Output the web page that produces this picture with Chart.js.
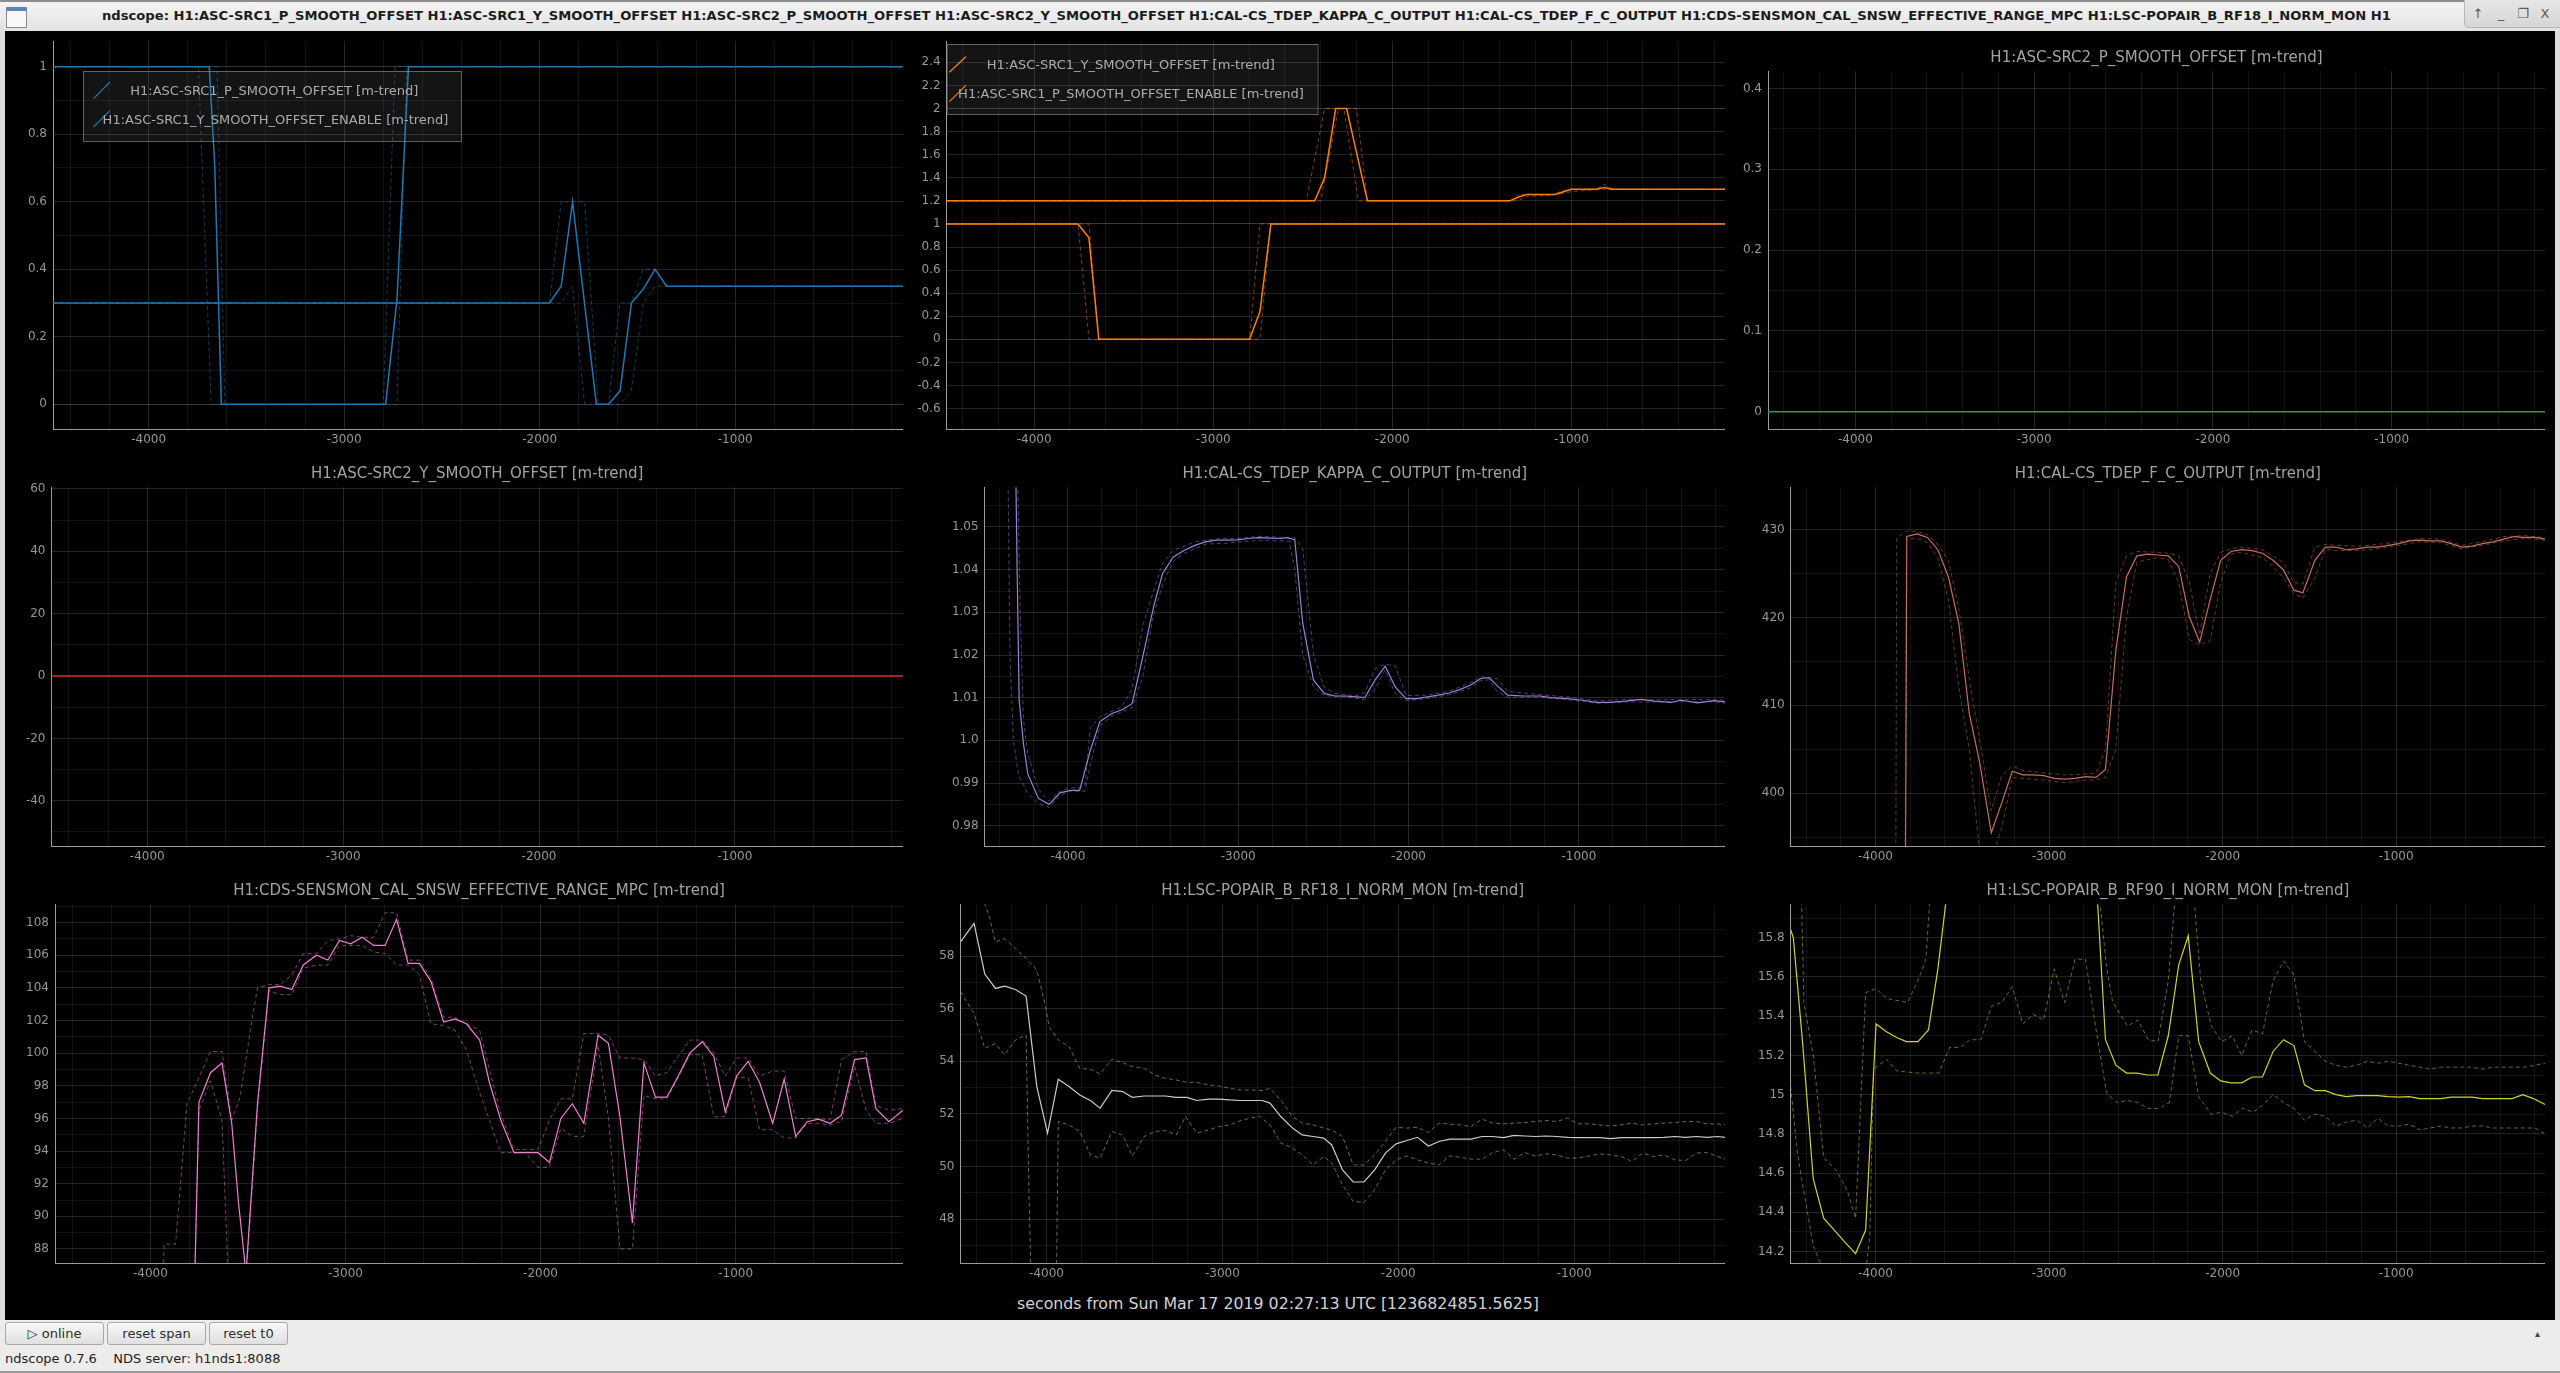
<!DOCTYPE html>
<html>
<head>
<meta charset="utf-8">
<title>ndscope</title>
<script src="https://cdn.jsdelivr.net/npm/chart.js@4.4.1/dist/chart.umd.min.js"></script>
<style>
  body { margin: 0; width: 2560px; height: 1373px; overflow: hidden; position: relative;
         background: #dcdcdc; font-family: 'DejaVu Sans', sans-serif; }
  #titlebar { position: absolute; left: 0; top: 0; width: 2560px; height: 31px; box-sizing: border-box;
              background: linear-gradient(#f4f4f4, #e2e2e2); border-top: 2px solid #8c8c8c; }
  #winicon { position: absolute; left: 6px; top: 5px; width: 19px; height: 16px; background: #f8f8f8;
             border: 1px solid #8a8a8a; border-top: 4px solid #5b86b8; border-radius: 1px; }
  #wintitle { position: absolute; left: 102px; top: 6px; font-weight: bold; font-size: 13px; color: #1c1c1c;
              white-space: nowrap; transform-origin: 0 0; }
  #winbtns { position: absolute; left: 2464px; top: -2px; width: 96px; height: 27px; border-radius: 0 0 0 5px;
             background: linear-gradient(#e6e6e6, #d6d6d6); border-left: 1px solid #b8b8b8; border-bottom: 1px solid #b8b8b8; }
  #winbtns span { position: absolute; top: 6px; font-size: 13px; color: #5a5a5a; transform: translateX(-50%); }
  #scope { position: absolute; left: 5px; top: 31px; width: 2550px; height: 1289px; background: #000; }
  canvas { position: absolute; }
  #xlabel { position: absolute; left: 1278px; top: 1303px; transform: translate(-50%, -50%); white-space: nowrap;
            font-size: 15.8px; color: #d2d2d2; }
  #toolbar { position: absolute; left: 0; top: 1320px; width: 2560px; height: 53px; background: #edeceb;
             border-bottom: 2px solid #9a9a9a; box-sizing: border-box; }
  .btn { position: absolute; top: 2px; height: 23px; box-sizing: border-box; border: 1px solid #a9a9a9;
         border-radius: 3px; background: linear-gradient(#f7f7f7, #e0e0e0); font-size: 13px; color: #2e2e2e;
         text-align: center; line-height: 21px; white-space: nowrap; }
  #status { position: absolute; left: 5px; top: 31px; font-size: 13px; color: #1e1e1e; white-space: pre; }
  #caret { position: absolute; left: 2535px; top: 8px; font-size: 10px; color: #444; }
</style>
</head>
<body>
<div id="titlebar">
  <div id="winicon"></div>
  <span id="wintitle">ndscope: H1:ASC-SRC1_P_SMOOTH_OFFSET H1:ASC-SRC1_Y_SMOOTH_OFFSET H1:ASC-SRC2_P_SMOOTH_OFFSET H1:ASC-SRC2_Y_SMOOTH_OFFSET H1:CAL-CS_TDEP_KAPPA_C_OUTPUT H1:CAL-CS_TDEP_F_C_OUTPUT H1:CDS-SENSMON_CAL_SNSW_EFFECTIVE_RANGE_MPC H1:LSC-POPAIR_B_RF18_I_NORM_MON H1</span>
  <div id="winbtns"><span style="left:13px">↑</span><span style="left:36px">_</span><span style="left:58px">❐</span><span style="left:80px">X</span></div>
</div>
<div id="scope"></div>
<div id="xlabel">seconds from Sun Mar 17 2019 02:27:13 UTC [1236824851.5625]</div>
<div id="toolbar">
  <div class="btn" style="left:5px;width:99px">▷ online</div>
  <div class="btn" style="left:107px;width:99px">reset span</div>
  <div class="btn" style="left:209px;width:79px">reset t0</div>
  <div id="caret">▴</div>
  <div id="status">ndscope 0.7.6    NDS server: h1nds1:8088</div>
</div>

<script>
// ---- x axis (seconds relative to t0) ----
const X_MIN = -4489;
const X_MAX = -142;
const xTickLabels = ['-4000', '-3000', '-2000', '-1000'];

// ---- panel 1: ASC-SRC1 P offset / Y offset enable ----
const src1Labels = ['H1:ASC-SRC1_P_SMOOTH_OFFSET [m-trend]', 'H1:ASC-SRC1_Y_SMOOTH_OFFSET_ENABLE [m-trend]'];
const src1YTicks = ['0', '0.2', '0.4', '0.6', '0.8', '1'];
const src1EnableMean = [[-4489,1],[-3690,1],[-3662,0.71],[-3628,0],[-2788,0],[-2730,0.31],[-2671,1],[-142,1]];
const src1EnableMin = [[-4489,1],[-3745,1],[-3680,0],[-2730,0],[-2680,1],[-142,1]];
const src1EnableMax = [[-4489,1],[-3650,1],[-3610,0],[-2800,0],[-2740,1],[-142,1]];
const src1OffsetMean = [[-4489,0.3],[-1950,0.3],[-1890,0.35],[-1832,0.6],[-1710,0],[-1648,0],[-1589,0.04],[-1531,0.3],[-1472,0.34],[-1410,0.4],[-1351,0.35],[-142,0.35]];
const src1OffsetMin = [[-4489,0.3],[-1890,0.3],[-1832,0.35],[-1770,0],[-1590,0],[-1531,0.04],[-1470,0.3],[-1410,0.35],[-142,0.35]];
const src1OffsetMax = [[-4489,0.3],[-1950,0.3],[-1890,0.6],[-1770,0.6],[-1700,0],[-1648,0],[-1590,0.3],[-1530,0.3],[-1470,0.4],[-1410,0.4],[-1351,0.35],[-142,0.35]];

// ---- panel 2: ASC-SRC1 Y offset / P offset enable ----
const src1bLabels = ['H1:ASC-SRC1_Y_SMOOTH_OFFSET [m-trend]', 'H1:ASC-SRC1_P_SMOOTH_OFFSET_ENABLE [m-trend]'];
const src1bYTicks = ['-0.6', '-0.4', '-0.2', '0', '0.2', '0.4', '0.6', '0.8', '1', '1.2', '1.4', '1.6', '1.8', '2', '2.2', '2.4'];
const yOffsetMean = [[-4489,1.2],[-2433,1.2],[-2378,1.4],[-2316,2.0],[-2255,2.0],[-2139,1.2],[-1343,1.2],[-1291,1.235],[-1245,1.256],[-1092,1.256],[-1000,1.3],[-862,1.3],[-817,1.315],[-771,1.3],[-142,1.3]];
const yOffsetMin = [[-4489,1.2],[-2400,1.2],[-2300,2.0],[-2270,2.0],[-2190,1.2],[-1300,1.2],[-1245,1.24],[-1100,1.25],[-1000,1.28],[-830,1.3],[-142,1.3]];
const yOffsetMax = [[-4489,1.2],[-2480,1.2],[-2378,2.0],[-2200,2.0],[-2139,1.2],[-1343,1.2],[-1300,1.25],[-1245,1.256],[-1092,1.256],[-1050,1.29],[-1000,1.3],[-862,1.3],[-817,1.345],[-771,1.3],[-142,1.3]];
const pEnableMean = [[-4489,1],[-3755,1],[-3694,0.88],[-3639,0],[-2797,0],[-2739,0.24],[-2678,1],[-142,1]];
const pEnableMin = [[-4489,1],[-3755,1],[-3694,0],[-2739,0],[-2678,1],[-142,1]];
const pEnableMax = [[-4489,1],[-3694,1],[-3639,0],[-2797,0],[-2739,1],[-142,1]];

// ---- panel 3 / 4: ASC-SRC2 offsets (flat) ----
const src2PYTicks = ['0', '0.1', '0.2', '0.3', '0.4'];
const src2PMean = [[-4489,0],[-142,0]];
const src2YYTicks = ['-40', '-20', '0', '20', '40', '60'];
const src2YMean = [[-4489,0],[-142,0]];

// ---- panel 5: kappa C ----
const kappaYTicks = ['0.98', '0.99', '1.0', '1.01', '1.02', '1.03', '1.04', '1.05'];
const kappaMean = [[-4310,1.075],[-4298,1.040],[-4286,1.0094],[-4261,0.9993],[-4236,0.9922],[-4173,0.9864],[-4110,0.9850],[-4047,0.9877],[-3984,0.9883],[-3931,0.9883],[-3868,0.9977],[-3812,1.0044],[-3742,1.0063],[-3686,1.0071],[-3623,1.0086],[-3560,1.0196],[-3497,1.0313],[-3444,1.0391],[-3381,1.0430],[-3318,1.0445],[-3255,1.0457],[-3193,1.0465],[-3130,1.0469],[-3067,1.0469],[-3004,1.0470],[-2941,1.0473],[-2879,1.0475],[-2816,1.0474],[-2753,1.0473],[-2715,1.0475],[-2668,1.0470],[-2621,1.0274],[-2558,1.0141],[-2495,1.0110],[-2432,1.0104],[-2370,1.0104],[-2307,1.0102],[-2257,1.0100],[-2197,1.0141],[-2137,1.0174],[-2078,1.0125],[-2015,1.0098],[-1952,1.0098],[-1889,1.0102],[-1826,1.0106],[-1763,1.0111],[-1700,1.0119],[-1638,1.0129],[-1575,1.0145],[-1528,1.0147],[-1481,1.0129],[-1418,1.0106],[-1324,1.0104],[-1229,1.0104],[-1166,1.0100],[-1072,1.0098],[-978,1.0094],[-899,1.0089],[-821,1.0089],[-727,1.0092],[-632,1.0096],[-554,1.0092],[-460,1.0089],[-397,1.0094],[-303,1.0088],[-208,1.0093],[-142,1.0090]];
const kappaMin = [[-4355,1.075],[-4340,1.02],[-4320,1.0],[-4290,0.992],[-4236,0.9875],[-4173,0.9852],[-4110,0.9843],[-4050,0.987],[-3990,0.9881],[-3900,0.9881],[-3870,0.994],[-3810,1.0035],[-3740,1.0057],[-3620,1.0078],[-3560,1.015],[-3500,1.029],[-3440,1.037],[-3380,1.042],[-3320,1.0438],[-3250,1.045],[-3190,1.046],[-3070,1.0462],[-2940,1.0467],[-2820,1.0468],[-2700,1.0467],[-2668,1.040],[-2621,1.020],[-2558,1.0125],[-2495,1.0105],[-2370,1.0102],[-2257,1.0095],[-2197,1.012],[-2137,1.0165],[-2078,1.011],[-2015,1.0093],[-1889,1.0098],[-1763,1.0107],[-1638,1.0123],[-1575,1.014],[-1528,1.0142],[-1481,1.0115],[-1418,1.0101],[-1229,1.0101],[-1072,1.0096],[-899,1.0087],[-727,1.009],[-554,1.009],[-397,1.0091],[-208,1.009],[-142,1.0088]];
const kappaMax = [[-4300,1.075],[-4280,1.03],[-4261,1.005],[-4236,0.997],[-4173,0.9885],[-4110,0.9858],[-4050,0.988],[-3990,0.9888],[-3930,0.989],[-3900,0.9895],[-3868,1.003],[-3812,1.0055],[-3742,1.0068],[-3686,1.0078],[-3623,1.012],[-3560,1.027],[-3497,1.035],[-3444,1.0415],[-3381,1.0445],[-3318,1.0455],[-3255,1.0465],[-3130,1.0472],[-3004,1.0473],[-2879,1.0478],[-2753,1.0476],[-2668,1.0475],[-2621,1.045],[-2558,1.020],[-2495,1.0125],[-2432,1.011],[-2307,1.0105],[-2257,1.0112],[-2197,1.0168],[-2137,1.0178],[-2078,1.0175],[-2015,1.0105],[-1889,1.0106],[-1763,1.0115],[-1638,1.0135],[-1575,1.0149],[-1481,1.0145],[-1418,1.0115],[-1229,1.0107],[-1072,1.0102],[-899,1.0093],[-727,1.0096],[-554,1.0095],[-397,1.0096],[-208,1.0096],[-142,1.0094]];

// ---- panel 6: f C ----
const fcYTicks = ['400', '410', '420', '430'];
const fcMean = [[-3832,380],[-3826,398],[-3820,429.2],[-3762,429.5],[-3701,429.1],[-3641,427.7],[-3580,424.6],[-3520,419.3],[-3460,409.1],[-3399,403.4],[-3333,395.5],[-3273,398.9],[-3212,402.5],[-3152,402.1],[-3092,402.1],[-3031,402.0],[-2971,401.7],[-2910,401.6],[-2850,401.7],[-2790,401.9],[-2729,401.8],[-2675,402.7],[-2615,416.3],[-2554,424.6],[-2494,427.0],[-2434,427.2],[-2373,427.1],[-2313,427.0],[-2253,425.8],[-2192,420.1],[-2132,417.2],[-2072,422.0],[-2011,426.5],[-1951,427.5],[-1890,427.7],[-1830,427.6],[-1770,427.3],[-1709,426.5],[-1649,425.4],[-1589,423.1],[-1537,422.8],[-1468,426.5],[-1408,428.0],[-1347,428.0],[-1287,427.7],[-1227,427.8],[-1166,428.0],[-1106,428.0],[-1045,428.2],[-985,428.4],[-925,428.7],[-864,428.8],[-804,428.7],[-744,428.7],[-683,428.4],[-623,428.0],[-563,428.1],[-502,428.4],[-442,428.6],[-381,428.9],[-321,429.2],[-261,429.1],[-200,429.1],[-142,428.9]];
const fcMin = [[-3832,380],[-3822,428.9],[-3762,429.0],[-3701,428.5],[-3641,426.7],[-3580,422.0],[-3520,412.0],[-3460,405.0],[-3399,393.0],[-3333,392.5],[-3273,396.0],[-3212,401.8],[-3152,401.7],[-3031,401.5],[-2910,401.2],[-2790,401.5],[-2729,401.5],[-2675,401.8],[-2615,405.0],[-2554,420.0],[-2494,426.3],[-2373,426.8],[-2313,426.6],[-2253,424.0],[-2192,417.5],[-2132,416.9],[-2072,417.3],[-2011,424.0],[-1951,427.2],[-1890,427.4],[-1770,426.8],[-1709,425.8],[-1649,424.5],[-1589,422.7],[-1537,422.2],[-1468,424.5],[-1408,427.8],[-1347,427.6],[-1227,427.6],[-1106,427.8],[-985,428.2],[-864,428.6],[-744,428.5],[-623,427.8],[-502,428.2],[-381,428.7],[-261,429.0],[-142,428.8]];
const fcMax = [[-3885,380],[-3878,429.0],[-3822,429.8],[-3762,429.8],[-3701,429.4],[-3641,428.3],[-3580,426.5],[-3520,421.0],[-3460,413.0],[-3399,406.0],[-3333,398.0],[-3273,402.0],[-3212,403.1],[-3152,402.6],[-3031,402.3],[-2910,402.1],[-2790,402.2],[-2729,402.3],[-2675,405.0],[-2615,424.0],[-2554,427.0],[-2494,427.5],[-2373,427.4],[-2313,427.3],[-2253,427.0],[-2192,424.0],[-2132,418.0],[-2072,425.0],[-2011,427.4],[-1951,427.8],[-1890,428.0],[-1770,427.7],[-1709,427.0],[-1649,426.2],[-1589,424.0],[-1537,423.8],[-1468,428.0],[-1408,428.3],[-1347,428.2],[-1227,428.1],[-1106,428.3],[-985,428.6],[-864,429.0],[-744,428.9],[-623,428.2],[-502,428.6],[-381,429.2],[-261,429.3],[-142,429.1]];

// ---- panel 7: SENSMON effective range ----
const rangeYTicks = ['88', '90', '92', '94', '96', '98', '100', '102', '104', '106', '108'];
const rangeMean = [[-3775,85.0],[-3751,97.0],[-3692,98.8],[-3633,99.4],[-3583,95.7],[-3548,90.8],[-3510,86.5],[-3451,96.9],[-3392,104.0],[-3334,104.1],[-3275,103.9],[-3216,105.4],[-3149,106.0],[-3090,105.7],[-3031,106.9],[-2973,106.7],[-2914,107.1],[-2855,106.6],[-2797,106.6],[-2738,108.2],[-2679,105.5],[-2621,105.5],[-2562,104.4],[-2497,101.9],[-2439,102.1],[-2380,101.8],[-2312,100.8],[-2262,98.2],[-2204,95.9],[-2136,93.9],[-2078,93.9],[-2013,93.9],[-1954,93.3],[-1896,96.0],[-1837,96.9],[-1778,95.7],[-1705,101.1],[-1652,100.6],[-1593,96.1],[-1529,89.6],[-1470,99.4],[-1411,97.3],[-1353,97.3],[-1294,98.6],[-1235,100.0],[-1171,100.7],[-1112,99.8],[-1053,96.4],[-995,98.6],[-936,99.5],[-877,98.2],[-810,95.7],[-751,98.4],[-692,94.9],[-633,95.8],[-575,95.95],[-516,95.7],[-457,96.2],[-390,99.6],[-331,99.7],[-281,96.6],[-214,95.8],[-142,96.5]];
const rangeMin = [[-3775,85.0],[-3751,96.5],[-3692,98.3],[-3633,95.9],[-3600,86.0],[-3510,86.0],[-3451,96.5],[-3392,103.8],[-3334,103.6],[-3275,103.6],[-3216,105.2],[-3149,105.4],[-3090,105.4],[-3031,106.6],[-2973,106.6],[-2914,106.6],[-2855,106.2],[-2797,106.1],[-2738,105.4],[-2679,105.4],[-2621,104.8],[-2562,101.8],[-2497,101.7],[-2439,101.4],[-2380,100.2],[-2312,97.6],[-2262,95.9],[-2204,93.9],[-2136,93.9],[-2078,93.9],[-2013,93.0],[-1954,93.0],[-1896,95.4],[-1837,94.9],[-1778,94.9],[-1705,100.5],[-1652,96.0],[-1593,88.0],[-1529,88.0],[-1470,97.4],[-1411,97.2],[-1353,97.2],[-1294,98.5],[-1235,99.9],[-1171,99.9],[-1112,96.1],[-1053,96.1],[-995,98.5],[-936,98.5],[-877,95.3],[-810,95.3],[-751,94.8],[-692,94.8],[-633,95.7],[-575,95.7],[-516,95.6],[-457,95.8],[-390,99.2],[-331,96.5],[-281,95.7],[-214,95.7],[-142,96.0]];
const rangeMax = [[-3935,85.0],[-3930,88.3],[-3871,88.3],[-3812,96.9],[-3751,98.5],[-3692,100.1],[-3633,100.1],[-3583,95.9],[-3540,97.3],[-3480,102.0],[-3451,104.0],[-3392,104.2],[-3334,104.2],[-3275,104.8],[-3216,106.1],[-3149,106.1],[-3090,106.9],[-3031,107.0],[-2973,107.2],[-2914,107.1],[-2855,107.1],[-2797,108.6],[-2738,108.6],[-2679,105.7],[-2621,105.7],[-2562,104.6],[-2497,102.2],[-2439,102.2],[-2380,101.8],[-2312,101.4],[-2262,99.0],[-2204,96.3],[-2136,94.1],[-2078,94.1],[-2013,94.1],[-1954,95.9],[-1896,97.2],[-1837,97.2],[-1778,101.2],[-1705,101.2],[-1652,101.1],[-1593,99.7],[-1529,99.7],[-1470,99.6],[-1411,98.6],[-1353,98.8],[-1294,99.8],[-1235,100.8],[-1171,100.8],[-1112,100.0],[-1053,98.6],[-995,99.7],[-936,99.7],[-877,98.6],[-810,98.9],[-751,98.9],[-692,96.0],[-633,96.0],[-575,96.0],[-516,95.9],[-457,99.6],[-390,100.1],[-331,100.1],[-281,96.8],[-214,96.5],[-142,96.6]];

// ---- panel 8: POPAIR RF18 ----
const rf18YTicks = ['48', '50', '52', '54', '56', '58'];
const rf18Mean = [[-4489,58.54],[-4412,59.24],[-4351,57.32],[-4290,56.77],[-4238,56.86],[-4177,56.73],[-4116,56.48],[-4055,53.04],[-3994,51.27],[-3933,53.32],[-3872,53.04],[-3811,52.72],[-3750,52.51],[-3695,52.22],[-3628,52.89],[-3567,52.85],[-3512,52.63],[-3445,52.68],[-3384,52.68],[-3323,52.68],[-3262,52.63],[-3201,52.63],[-3146,52.51],[-3079,52.56],[-3018,52.56],[-2957,52.53],[-2896,52.51],[-2835,52.51],[-2774,52.51],[-2729,52.41],[-2668,51.90],[-2601,51.46],[-2546,51.20],[-2485,51.14],[-2424,51.08],[-2378,50.82],[-2317,49.87],[-2256,49.41],[-2195,49.41],[-2134,49.87],[-2073,50.51],[-2012,50.86],[-1951,50.99],[-1890,51.11],[-1829,50.78],[-1768,50.95],[-1707,51.04],[-1585,51.04],[-1524,51.14],[-1463,51.14],[-1402,51.10],[-1341,51.18],[-1280,51.16],[-1220,51.14],[-1159,51.16],[-1098,51.14],[-1037,51.11],[-976,51.10],[-854,51.10],[-793,51.06],[-732,51.10],[-549,51.10],[-488,51.11],[-427,51.14],[-366,51.11],[-305,51.14],[-244,51.11],[-183,51.14],[-142,51.11]];
const rf18Min = [[-4489,56.65],[-4412,55.82],[-4351,54.49],[-4290,54.68],[-4238,54.24],[-4177,54.81],[-4116,55.00],[-4100,49.1],[-4085,45.0],[-3945,45.0],[-3933,51.71],[-3872,51.58],[-3811,51.33],[-3750,50.44],[-3695,50.32],[-3628,51.33],[-3567,51.20],[-3512,50.40],[-3445,51.14],[-3384,51.33],[-3323,51.37],[-3262,51.20],[-3210,51.90],[-3146,51.27],[-3079,51.39],[-3018,51.52],[-2957,51.58],[-2896,51.75],[-2835,51.84],[-2790,51.92],[-2729,51.58],[-2668,50.89],[-2601,50.70],[-2546,50.44],[-2485,50.06],[-2424,50.38],[-2378,50.13],[-2317,49.30],[-2256,48.67],[-2195,48.63],[-2134,49.11],[-2073,49.87],[-2012,50.25],[-1951,50.40],[-1890,50.25],[-1829,50.13],[-1768,50.06],[-1707,50.40],[-1646,50.35],[-1585,50.28],[-1524,50.28],[-1463,50.53],[-1402,50.63],[-1341,50.28],[-1280,50.53],[-1220,50.40],[-1159,50.48],[-1098,50.44],[-1037,50.32],[-976,50.32],[-915,50.40],[-854,50.48],[-793,50.44],[-732,50.38],[-671,50.19],[-610,50.51],[-549,50.38],[-488,50.44],[-427,50.25],[-366,50.23],[-305,50.51],[-244,50.53],[-183,50.38],[-142,50.28]];
const rf18Max = [[-4489,60.5],[-4360,60.5],[-4351,59.97],[-4329,59.6],[-4290,58.54],[-4238,58.67],[-4177,58.29],[-4116,57.91],[-4055,57.47],[-4009,56.2],[-3985,55.32],[-3933,54.81],[-3872,54.56],[-3811,53.73],[-3750,53.70],[-3695,53.52],[-3628,54.08],[-3567,53.95],[-3512,53.80],[-3445,53.73],[-3384,53.48],[-3323,53.35],[-3262,53.29],[-3201,53.20],[-3146,53.20],[-3079,53.10],[-3018,53.06],[-2957,52.97],[-2896,52.91],[-2835,52.91],[-2774,52.89],[-2729,52.97],[-2668,52.53],[-2601,51.90],[-2546,51.65],[-2485,51.58],[-2424,51.46],[-2378,51.39],[-2317,51.14],[-2256,50.06],[-2195,50.06],[-2134,50.44],[-2073,50.95],[-2012,51.49],[-1951,51.46],[-1890,51.49],[-1829,51.29],[-1768,51.65],[-1707,51.61],[-1646,51.58],[-1585,51.52],[-1524,51.80],[-1463,51.65],[-1402,51.62],[-1341,51.65],[-1280,51.67],[-1220,51.71],[-1159,51.75],[-1098,51.71],[-1037,51.84],[-976,51.62],[-915,51.62],[-854,51.58],[-793,51.54],[-732,51.58],[-671,51.65],[-610,51.58],[-549,51.62],[-488,51.65],[-427,51.67],[-366,51.71],[-305,51.71],[-244,51.62],[-183,51.62],[-142,51.58]];

// ---- panel 9: POPAIR RF90 ----
const rf90YTicks = ['14.2', '14.4', '14.6', '14.8', '15', '15.2', '15.4', '15.6', '15.8'];
const rf90Mean = [[-4489,15.84],[-4474,15.80],[-4420,15.26],[-4359,14.57],[-4299,14.37],[-4238,14.31],[-4178,14.25],[-4115,14.19],[-4057,14.31],[-3997,15.36],[-3937,15.32],[-3876,15.29],[-3822,15.27],[-3756,15.27],[-3695,15.33],[-3641,15.64],[-3596,15.97],[-3540,16.5],[-2780,16.5],[-2720,15.97],[-2675,15.28],[-2615,15.15],[-2554,15.11],[-2494,15.11],[-2434,15.10],[-2373,15.10],[-2313,15.30],[-2253,15.66],[-2198,15.81],[-2138,15.27],[-2071,15.11],[-2011,15.07],[-1951,15.06],[-1890,15.06],[-1830,15.09],[-1770,15.09],[-1709,15.22],[-1649,15.28],[-1589,15.25],[-1528,15.05],[-1468,15.02],[-1408,15.02],[-1347,15.00],[-1287,14.99],[-1226,14.995],[-1106,14.995],[-1045,14.99],[-985,14.987],[-925,14.99],[-864,14.98],[-744,14.98],[-683,14.987],[-563,14.987],[-502,14.98],[-330,14.98],[-270,15.0],[-209,14.98],[-142,14.95]];
const rf90Min = [[-4489,15.04],[-4450,14.70],[-4426,14.57],[-4359,14.23],[-4299,14.10],[-4057,14.10],[-4033,14.28],[-4012,15.13],[-3937,15.18],[-3876,15.12],[-3756,15.11],[-3635,15.11],[-3574,15.24],[-3514,15.24],[-3454,15.28],[-3393,15.28],[-3333,15.45],[-3273,15.47],[-3212,15.55],[-3152,15.36],[-3092,15.41],[-3031,15.38],[-2971,15.64],[-2910,15.47],[-2850,15.69],[-2790,15.69],[-2729,15.33],[-2669,15.01],[-2609,14.96],[-2548,14.97],[-2488,14.96],[-2428,14.93],[-2367,14.93],[-2307,14.96],[-2253,15.30],[-2198,15.30],[-2138,14.99],[-2065,14.90],[-2005,14.91],[-1945,14.89],[-1884,14.93],[-1824,14.91],[-1764,14.95],[-1709,15.00],[-1649,14.96],[-1589,14.93],[-1528,14.87],[-1468,14.90],[-1408,14.89],[-1347,14.84],[-1287,14.86],[-1226,14.87],[-1166,14.83],[-1106,14.88],[-1045,14.84],[-985,14.84],[-925,14.85],[-864,14.82],[-804,14.83],[-744,14.84],[-683,14.83],[-623,14.83],[-563,14.84],[-502,14.84],[-442,14.83],[-381,14.83],[-321,14.83],[-261,14.83],[-200,14.83],[-142,14.80]];
const rf90Max = [[-4489,16.3],[-4440,16.3],[-4426,15.97],[-4413,15.47],[-4359,15.20],[-4299,14.68],[-4223,14.61],[-4163,14.51],[-4115,14.37],[-4057,15.52],[-3997,15.54],[-3937,15.49],[-3816,15.47],[-3756,15.58],[-3710,15.69],[-3689,15.97],[-3640,16.6],[-2760,16.6],[-2705,15.97],[-2669,15.65],[-2633,15.47],[-2548,15.35],[-2488,15.38],[-2428,15.28],[-2373,15.27],[-2313,15.58],[-2277,15.97],[-2230,16.3],[-2180,16.3],[-2162,15.97],[-2126,15.58],[-2065,15.35],[-2005,15.27],[-1945,15.30],[-1890,15.20],[-1830,15.33],[-1770,15.31],[-1709,15.58],[-1649,15.68],[-1589,15.61],[-1528,15.27],[-1468,15.22],[-1408,15.17],[-1347,15.15],[-1287,15.14],[-1226,15.15],[-1166,15.17],[-1106,15.16],[-1045,15.17],[-985,15.16],[-925,15.15],[-864,15.14],[-804,15.13],[-744,15.14],[-623,15.14],[-563,15.14],[-502,15.13],[-442,15.14],[-261,15.14],[-200,15.15],[-142,15.16]];

// ---- look ----
const GRID_STRONG = 'rgba(255,255,255,0.22)';
const GRID_MAJOR = 'rgba(255,255,255,0.14)';
const GRID_MINOR = 'rgba(255,255,255,0.07)';
const AXIS_COLOR = '#9c9c9c';
const TICK_COLOR = '#969696';
const TITLE_COLOR = '#a2a2a2';
const FONT = "'DejaVu Sans', sans-serif";

Chart.defaults.font.family = FONT;

function fade(hex, a) {
  const n = parseInt(hex.slice(1), 16);
  return `rgba(${n >> 16},${(n >> 8) & 255},${n & 255},${a})`;
}

function near(a, b, step) {
  return Math.abs(a - b) < step * 1e-4;
}

function stepTicks(min, max, step) {
  const ticks = [];
  for (let k = Math.ceil(min / step - 1e-9); k * step <= max + 1e-12; k++) {
    ticks.push({ value: Math.round(k * step * 1e9) / 1e9 });
  }
  return ticks;
}

function trendLine(data, color, width, dash) {
  return { data, borderColor: color, borderWidth: width, borderDash: dash,
           pointRadius: 0, tension: 0, fill: false, clip: 0 };
}

// small pyqtgraph-like legend: diagonal swatch + label inside a translucent box
const ndLegend = {
  id: 'ndLegend',
  afterDatasetsDraw(chart, args, opts) {
    if (!opts.box) return;
    const { ctx, chartArea } = chart;
    const bx = chartArea.left + opts.box[0];
    const by = chartArea.top + opts.box[1];
    ctx.save();
    ctx.fillStyle = 'rgba(120,120,120,0.17)';
    ctx.fillRect(bx, by, opts.box[2], opts.box[3]);
    ctx.strokeStyle = 'rgba(165,165,165,0.55)';
    ctx.lineWidth = 1;
    ctx.strokeRect(bx + 0.5, by + 0.5, opts.box[2], opts.box[3]);
    opts.entries.forEach(e => {
      ctx.strokeStyle = e.color;
      ctx.lineWidth = 1.2;
      ctx.beginPath();
      ctx.moveTo(bx + e.swatch[0], by + e.swatch[1]);
      ctx.lineTo(bx + e.swatch[2], by + e.swatch[3]);
      ctx.stroke();
      ctx.fillStyle = '#ababab';
      ctx.font = `13px ${FONT}`;
      ctx.textBaseline = 'middle';
      ctx.fillText(e.label, bx + e.text[0], by + e.text[1]);
    });
    ctx.restore();
  }
};

const BLUE = '#1f77b4', ORANGE = '#ff7f0e', GREEN = '#2ca02c', RED = '#d62728',
      PURPLE = '#a07ed8', SALMON = '#c4705c', PINK = '#f07fd2', SILVER = '#cccccc', OLIVE = '#d2d22a';

const panels = [
  { left: 5, axisX: 53, right: 903, top: 41, bottom: 429, yMin: -0.073, yMax: 1.076, yTicks: src1YTicks, minor: 0.1, strong: 1, lineW: 1.5,
    series: [{ mean: src1EnableMean, min: src1EnableMin, max: src1EnableMax, color: BLUE },
             { mean: src1OffsetMean, min: src1OffsetMin, max: src1OffsetMax, color: BLUE }],
    legend: { box: [30, 30, 378, 70], entries: [
      { label: src1Labels[0], color: BLUE, swatch: [10.6, 27.7, 26.9, 11], text: [47.3, 20.4] },
      { label: src1Labels[1], color: BLUE, swatch: [10.6, 56, 26.9, 39.7], text: [19.6, 49.4] }] } },
  { left: 905, axisX: 946.6, right: 1725, top: 41, bottom: 429, yMin: -0.777, yMax: 2.585, yTicks: src1bYTicks, minor: 0.2, strong: 1, lineW: 1.5,
    series: [{ mean: yOffsetMean, min: yOffsetMin, max: yOffsetMax, color: ORANGE },
             { mean: pEnableMean, min: pEnableMin, max: pEnableMax, color: ORANGE }],
    legend: { box: [0, 3, 371, 70], entries: [
      { label: src1bLabels[0], color: ORANGE, swatch: [2.8, 28.3, 19.2, 12.7], text: [40.1, 21.7] },
      { label: src1bLabels[1], color: ORANGE, swatch: [2.8, 57.7, 19.2, 41.3], text: [11.5, 51] }] } },
  { left: 1727, axisX: 1768, right: 2545, top: 71, bottom: 429, yMin: -0.0214, yMax: 0.4214, yTicks: src2PYTicks, minor: 0.05, lineW: 1.5,
    title: 'H1:ASC-SRC2_P_SMOOTH_OFFSET [m-trend]', series: [{ mean: src2PMean, color: GREEN }] },
  { left: 5, axisX: 51.5, right: 903, top: 487, bottom: 846, yMin: -54.5, yMax: 60.5, yTicks: src2YYTicks, minor: 10, lineW: 1.5,
    title: 'H1:ASC-SRC2_Y_SMOOTH_OFFSET [m-trend]', series: [{ mean: src2YMean, color: RED }] },
  { left: 905, axisX: 984.6, right: 1725, top: 487, bottom: 846, yMin: 0.97525, yMax: 1.0593, yTicks: kappaYTicks, minor: 0.005, lineW: 1.2,
    title: 'H1:CAL-CS_TDEP_KAPPA_C_OUTPUT [m-trend]', series: [{ mean: kappaMean, min: kappaMin, max: kappaMax, color: PURPLE }] },
  { left: 1727, axisX: 1790.7, right: 2545, top: 487, bottom: 846, yMin: 394.0, yMax: 434.8, yTicks: fcYTicks, minor: 5, lineW: 1.2,
    title: 'H1:CAL-CS_TDEP_F_C_OUTPUT [m-trend]', series: [{ mean: fcMean, min: fcMin, max: fcMax, color: SALMON }] },
  { left: 5, axisX: 55, right: 903, top: 904, bottom: 1263, yMin: 87.14, yMax: 109.12, yTicks: rangeYTicks, minor: 1, lineW: 1.2,
    title: 'H1:CDS-SENSMON_CAL_SNSW_EFFECTIVE_RANGE_MPC [m-trend]', series: [{ mean: rangeMean, min: rangeMin, max: rangeMax, color: PINK }] },
  { left: 905, axisX: 960.5, right: 1725, top: 904, bottom: 1263, yMin: 46.33, yMax: 59.97, yTicks: rf18YTicks, minor: 1, lineW: 1.2,
    title: 'H1:LSC-POPAIR_B_RF18_I_NORM_MON [m-trend]', series: [{ mean: rf18Mean, min: rf18Min, max: rf18Max, color: SILVER }] },
  { left: 1727, axisX: 1790.7, right: 2545, top: 904, bottom: 1263, yMin: 14.142, yMax: 15.97, yTicks: rf90YTicks, minor: 0.1, lineW: 1.2,
    title: 'H1:LSC-POPAIR_B_RF90_I_NORM_MON [m-trend]', series: [{ mean: rf90Mean, min: rf90Min, max: rf90Max, color: OLIVE }] }
];

const TITLE_BLOCK = 24.3;   // 15px * 1.2 line height + padding
const TITLE_PAD_TOP = 1.8;
const NO_TITLE_PAD = 14;
const X_AXIS_H = 30;

function makePanel(p) {
  const canvas = document.createElement('canvas');
  const headroom = p.title ? TITLE_BLOCK : NO_TITLE_PAD;
  const top = p.top - headroom;
  const width = Math.round(p.right - p.left);
  const height = Math.round(p.bottom - top + X_AXIS_H);
  canvas.width = width;
  canvas.height = height;
  canvas.style.left = p.left + 'px';
  canvas.style.top = top + 'px';
  canvas.style.width = width + 'px';
  canvas.style.height = height + 'px';
  document.body.appendChild(canvas);

  const datasets = [];
  p.series.forEach(s => {
    if (s.min) datasets.push(trendLine(s.min, fade(s.color, 0.5), 1, [4, 3]));
    if (s.max) datasets.push(trendLine(s.max, fade(s.color, 0.5), 1, [4, 3]));
  });
  p.series.forEach(s => datasets.push(trendLine(s.mean, s.color, p.lineW, [])));

  const yLabel = v => p.yTicks.find(l => near(parseFloat(l), v, p.minor));
  const xLabel = v => xTickLabels.find(l => near(parseFloat(l), v, 200));

  new Chart(canvas, {
    type: 'line',
    data: { datasets },
    plugins: [ndLegend],
    options: {
      responsive: false,
      animation: false,
      devicePixelRatio: 1,
      events: [],
      layout: { padding: { top: p.title ? 0 : NO_TITLE_PAD, left: 0, right: 0, bottom: 0 } },
      plugins: {
        legend: { display: false },
        tooltip: { enabled: false },
        title: {
          display: !!p.title, text: p.title || '', color: TITLE_COLOR, fullSize: false,
          font: { family: FONT, size: 15, weight: 'normal', lineHeight: 1.2 },
          padding: { top: TITLE_PAD_TOP, bottom: TITLE_BLOCK - 18 - TITLE_PAD_TOP }
        },
        ndLegend: p.legend || {}
      },
      scales: {
        x: {
          type: 'linear', min: X_MIN, max: X_MAX,
          afterBuildTicks: sc => { sc.ticks = stepTicks(X_MIN, X_MAX, 200); },
          afterFit: sc => { sc.height = X_AXIS_H; },
          grid: { color: c => (c.tick && xLabel(c.tick.value)) ? GRID_MAJOR : GRID_MINOR, drawTicks: false, lineWidth: 1 },
          border: { display: true, color: AXIS_COLOR, width: 1 },
          ticks: { color: TICK_COLOR, font: { family: FONT, size: 12 }, padding: 4, autoSkip: false,
                   maxRotation: 0, callback: v => xLabel(v) || '' }
        },
        y: {
          type: 'linear', min: p.yMin, max: p.yMax,
          afterBuildTicks: sc => { sc.ticks = stepTicks(p.yMin, p.yMax, p.minor); },
          afterFit: sc => { sc.width = p.axisX - p.left; },
          grid: {
            color: c => {
              if (!c.tick) return GRID_MINOR;
              if (p.strong && near(Math.round(c.tick.value / p.strong) * p.strong, c.tick.value, p.minor)) return GRID_STRONG;
              return yLabel(c.tick.value) ? GRID_MAJOR : GRID_MINOR;
            },
            drawTicks: false, lineWidth: 1
          },
          border: { display: true, color: AXIS_COLOR, width: 1 },
          ticks: { color: TICK_COLOR, font: { family: FONT, size: 12 }, padding: 6, autoSkip: false,
                   callback: v => yLabel(v) || '' }
        }
      }
    }
  });
}

panels.forEach(makePanel);

// stretch the window title to the width it has in the screenshot
const wt = document.getElementById('wintitle');
wt.style.transform = `scaleX(${2289 / wt.getBoundingClientRect().width})`;
</script>
</body>
</html>
